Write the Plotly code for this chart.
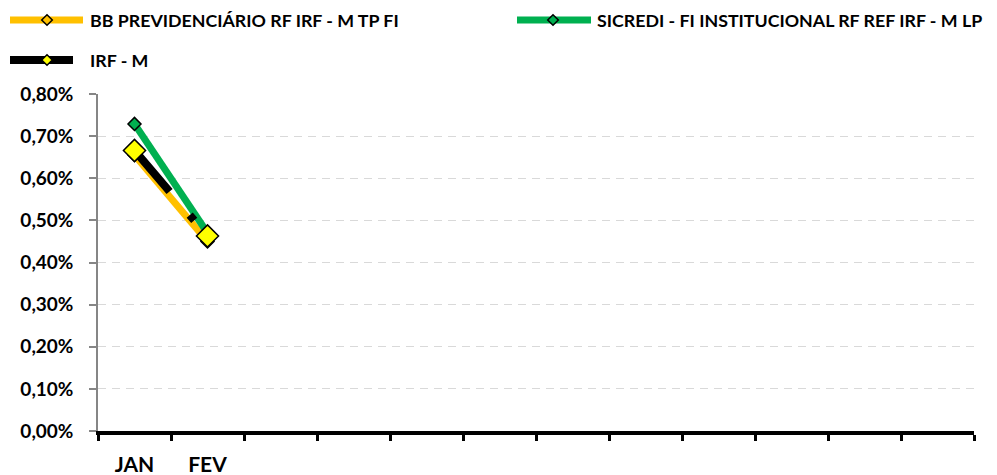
import plotly.graph_objects as go

# ---- data (values in %) ----
months = ["JAN", "FEV", "MAR", "ABR", "MAI", "JUN", "JUL", "AGO", "SET", "OUT", "NOV", "DEZ"]
tick_labels = ["JAN", "FEV", "", "", "", "", "", "", "", "", "", ""]
x_data = ["JAN", "FEV"]
bb_name = "BB PREVIDENCIÁRIO RF IRF - M TP FI"
bb_vals = [0.655, 0.450]
sicredi_name = "SICREDI - FI INSTITUCIONAL RF REF IRF - M LP"
sicredi_vals = [0.729, 0.470]
irfm_name = "IRF - M"
irfm_vals = [0.666, 0.463]
y_ticks = [0.0, 0.1, 0.2, 0.3, 0.4, 0.5, 0.6, 0.7, 0.8]
y_tick_labels = ["0,00%", "0,10%", "0,20%", "0,30%", "0,40%", "0,50%", "0,60%", "0,70%", "0,80%"]

FONT = "Lato"
OFF = 8  # page body margin offset
W, H = 997 - OFF, 475 - OFF
ML, MR, MT, MB = 98 - OFF, 23, 94 - OFF, 44
PW, PH = W - ML - MR, H - MT - MB

fig = go.Figure()
series = [
    (bb_name, bb_vals, "#FFC000", 7, "solid", 10, "#FFC000"),
    (sicredi_name, sicredi_vals, "#00B050", 7, "solid", 10, "#00B050"),
    (irfm_name, irfm_vals, "black", 8, "54px,31px,7px,40px", 17, "#FFFF00"),
]
for name, vals, col, lw, dash, msize, mcol in series:
    fig.add_trace(go.Scatter(
        x=x_data, y=vals, name=name, mode="lines+markers",
        line=dict(color=col, width=lw, dash=dash),
        marker=dict(symbol="diamond", size=msize, color=mcol, line=dict(color="black", width=1.5)),
        showlegend=False,
    ))

# ---- custom legend (page pixel positions converted to paper coords) ----
def px(x):
    return (x - OFF - ML) / PW

def py(y):
    return (MT + PH - (y - OFF)) / PH

legend_items = [
    # name, line x0, line x1, y, line color, line width, marker center x, marker fill, text x
    (bb_name, 10, 83, 20, "#FFC000", 7, 47, "#FFC000", 88),
    (sicredi_name, 517, 591, 20, "#00B050", 7, 553, "#00B050", 595),
    (irfm_name, 10, 73, 60, "black", 8, 47, "#FFFF00", 88),
]
shapes = []
annotations = []
for name, lx0, lx1, ly, lcol, lw, mx, mfill, tx in legend_items:
    shapes.append(dict(type="line", xref="paper", yref="paper",
                       x0=px(lx0), x1=px(lx1), y0=py(ly), y1=py(ly),
                       line=dict(color=lcol, width=lw)))
    h = 5.3
    path = "M{},{} L{},{} L{},{} L{},{} Z".format(
        px(mx - h), py(ly), px(mx), py(ly - h), px(mx + h), py(ly), px(mx), py(ly + h))
    shapes.append(dict(type="path", xref="paper", yref="paper", path=path,
                       fillcolor=mfill, line=dict(color="black", width=1.5)))
    annotations.append(dict(xref="paper", yref="paper", x=px(tx), y=py(ly),
                            xanchor="left", yanchor="middle", showarrow=False,
                            text=name, font=dict(family=FONT, size=17.8, weight="bold", color="black")))

fig.update_layout(
    width=W, height=H,
    margin=dict(l=ML, r=MR, t=MT, b=MB, autoexpand=False),
    paper_bgcolor="white", plot_bgcolor="white",
    font=dict(family=FONT, color="black", size=19, weight="bold"),
    showlegend=False,
    shapes=shapes,
    annotations=annotations,
)

fig.update_xaxes(
    type="category", categoryorder="array", categoryarray=months,
    range=[-0.5, 11.5], tickmode="array", tickvals=months, ticktext=tick_labels,
    tickson="boundaries", ticks="outside", ticklen=6, tickwidth=3, tickcolor="black",
    showline=True, linecolor="black", linewidth=4, showgrid=False, zeroline=False,
    tickfont=dict(family=FONT, size=21, weight="bold"), ticklabelstandoff=12,
    automargin=False,
)
fig.update_yaxes(
    range=[0, 0.8], tickmode="array", tickvals=y_ticks, ticktext=y_tick_labels,
    ticks="outside", ticklen=7, tickwidth=1.5, tickcolor="#868686",
    showline=True, linecolor="#868686", linewidth=1.5,
    showgrid=True, gridcolor="#D9D9D9", gridwidth=1.3, griddash="8px,6px",
    zeroline=False, tickfont=dict(family=FONT, size=19, weight="bold"), ticklabelstandoff=12,
    automargin=False,
)

fig.write_html("out.html")
